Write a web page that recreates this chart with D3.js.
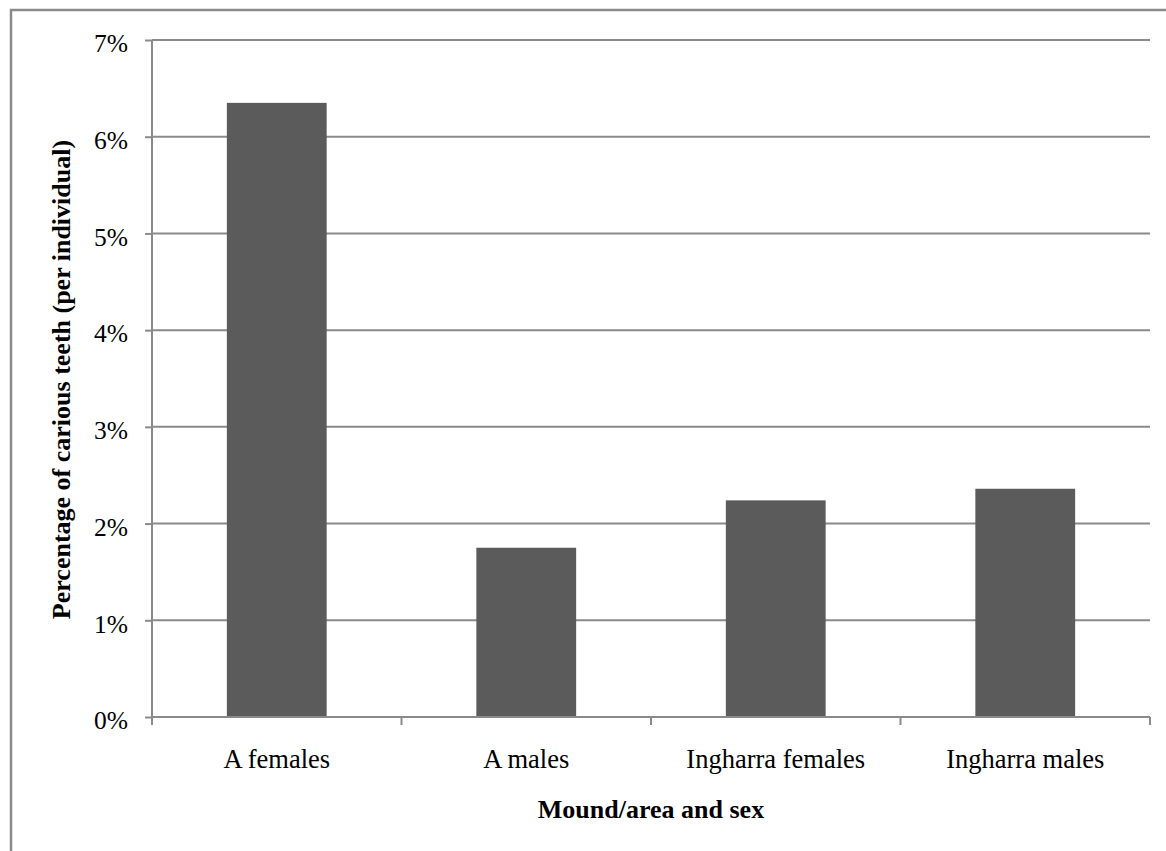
<!doctype html>
<html lang="en">
<head>
  <meta charset="utf-8">
  <script src="https://d3js.org/d3.v7.min.js"></script>
  <style>
    body { margin: 0; background: #fff; }
    svg text { font-family: "Liberation Serif", "Times New Roman", serif; fill: #000; }
  </style>
</head>
<body>
  <script>
    // data
    var categories = ["A females", "A males", "Ingharra females", "Ingharra males"];
    var values = [0.0635, 0.0175, 0.0224, 0.0236];
    var yTicks = [0, 0.01, 0.02, 0.03, 0.04, 0.05, 0.06, 0.07];
    var xTitle = "Mound/area and sex";
    var yTitle = "Percentage of carious teeth (per individual)";

    var width = 1166,
        height = 851;
    var plotLeft = 152, plotRight = 1150, plotTop = 40, plotBottom = 717;
    var gray = "#8a8a8a";

    var svg = d3.select("body").append("svg")
        .attr("width", width)
        .attr("height", height);

    // outer frame (only left and top edges are visible in the picture)
    svg.append("rect")
        .attr("x", 11).attr("y", 10)
        .attr("width", width + 20).attr("height", height + 20)
        .style("fill", "none")
        .style("stroke", gray)
        .style("stroke-width", 2.5);

    var x = d3.scaleBand().domain(categories).range([plotLeft, plotRight]).padding(0);
    var y = d3.scaleLinear().domain([0, 0.07]).range([plotBottom, plotTop]);

    // gridlines
    svg.selectAll("line.grid")
        .data(yTicks.filter(function(d) { return d > 0; }))
      .enter().append("line")
        .attr("class", "grid")
        .attr("x1", plotLeft).attr("x2", plotRight)
        .attr("y1", function(d) { return y(d); })
        .attr("y2", function(d) { return y(d); })
        .style("stroke", gray)
        .style("stroke-width", 2);

    // bars
    var barW = x.bandwidth() * 0.4;
    svg.selectAll("rect.bar")
        .data(values)
      .enter().append("rect")
        .attr("class", "bar")
        .attr("x", function(d, i) { return x(categories[i]) + (x.bandwidth() - barW) / 2; })
        .attr("y", function(d) { return y(d); })
        .attr("width", barW)
        .attr("height", function(d) { return y(0) - y(d); })
        .style("fill", "#5b5b5b");

    // y axis
    var yAxis = svg.append("g")
        .attr("transform", "translate(" + plotLeft + ",0)")
        .call(d3.axisLeft(y).tickValues(yTicks).tickSize(7).tickPadding(17)
              .tickFormat(d3.format(".0%")));
    yAxis.select(".domain").remove();
    yAxis.selectAll(".tick line").style("stroke", gray).style("stroke-width", 2);
    yAxis.selectAll(".tick text")
        .style("font-size", "25.5px")
        .style("font-family", "'Liberation Serif', 'Times New Roman', serif")
        .attr("dy", "0.46em");
    svg.append("line")
        .attr("x1", plotLeft).attr("x2", plotLeft)
        .attr("y1", plotTop).attr("y2", plotBottom)
        .style("stroke", gray).style("stroke-width", 2);

    // x axis
    svg.append("line")
        .attr("x1", plotLeft).attr("x2", plotRight)
        .attr("y1", plotBottom).attr("y2", plotBottom)
        .style("stroke", gray).style("stroke-width", 2);
    var bounds = categories.map(function(c) { return x(c); }).concat([x(categories[categories.length - 1]) + x.bandwidth()]);
    svg.selectAll("line.xtick")
        .data(bounds)
      .enter().append("line")
        .attr("class", "xtick")
        .attr("x1", function(d) { return d; }).attr("x2", function(d) { return d; })
        .attr("y1", plotBottom).attr("y2", plotBottom + 8)
        .style("stroke", gray).style("stroke-width", 2);
    svg.selectAll("text.xlab")
        .data(categories)
      .enter().append("text")
        .attr("class", "xlab")
        .attr("x", function(d) { return x(d) + x.bandwidth() / 2; })
        .attr("y", 768)
        .attr("text-anchor", "middle")
        .style("font-size", "26.5px")
        .text(function(d) { return d; });

    // axis titles
    svg.append("text")
        .attr("x", (plotLeft + plotRight) / 2)
        .attr("y", 818)
        .attr("text-anchor", "middle")
        .style("font-size", "26px")
        .style("font-weight", "bold")
        .text(xTitle);

    svg.append("text")
        .attr("transform", "translate(70," + ((plotTop + plotBottom) / 2 + 1) + ") rotate(-90)")
        .attr("text-anchor", "middle")
        .style("font-size", "26px")
        .style("font-weight", "bold")
        .text(yTitle);
  </script>
</body>
</html>
